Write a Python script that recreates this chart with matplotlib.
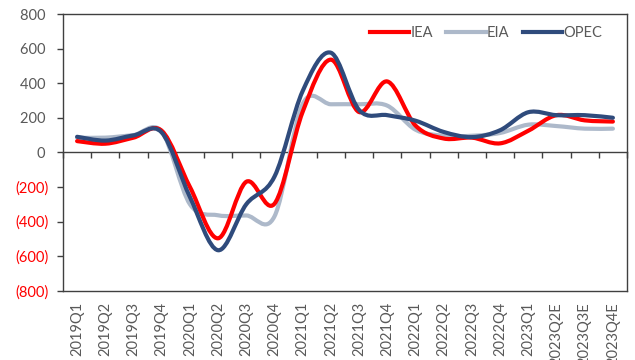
import matplotlib
matplotlib.use("Agg")
import matplotlib.pyplot as plt
from matplotlib.path import Path
from matplotlib.patches import PathPatch
from matplotlib.lines import Line2D
import numpy as np

categories = ["2019Q1", "2019Q2", "2019Q3", "2019Q4", "2020Q1", "2020Q2", "2020Q3", "2020Q4",
              "2021Q1", "2021Q2", "2021Q3", "2021Q4", "2022Q1", "2022Q2", "2022Q3", "2022Q4",
              "2023Q1", "2023Q2E", "2023Q3E", "2023Q4E"]
iea = [65, 50, 85, 125, -200, -497, -170, -297, 235, 536, 233, 410, 155, 80, 85, 52, 125, 215, 185, 178]
eia = [85, 85, 100, 120, -300, -364, -365, -370, 280, 278, 278, 270, 131, 96, 96, 112, 160, 152, 137, 137]
opec = [90, 68, 98, 115, -258, -566, -300, -140, 355, 576, 245, 215, 183, 118, 88, 128, 232, 215, 215, 200]
series_names = ["IEA", "EIA", "OPEC"]
yticks = [-800, -600, -400, -200, 0, 200, 400, 600, 800]

colors = ["#FF0000", "#ADB9CA", "#2F4B7C"]
plt.rcParams['font.family'] = ['Lato', 'DejaVu Sans']

fig = plt.figure(figsize=(6.35, 3.6), dpi=100)
ax = fig.add_axes([63/635, 1-290.7/360, 564/635, (290.7-14)/360])


def smooth_path(xs, ys):
    pts = np.column_stack([xs, ys]).astype(float)
    n = len(pts)
    verts = [pts[0]]
    codes = [Path.MOVETO]
    for i in range(n - 1):
        p0 = pts[i - 1] if i > 0 else pts[i]
        p1 = pts[i]
        p2 = pts[i + 1]
        p3 = pts[i + 2] if i + 2 < n else pts[i + 1]
        c1 = p1 + (p2 - p0) / 6.0
        c2 = p2 - (p3 - p1) / 6.0
        verts += [c1, c2, p2]
        codes += [Path.CURVE4] * 3
    return Path(verts, codes)


x = np.arange(len(categories))
handles = []
for vals, name, col, z in zip([iea, eia, opec], series_names, colors, [3, 2, 4]):
    patch = PathPatch(smooth_path(x, vals), facecolor='none', edgecolor=col,
                      lw=3.0, capstyle='round', joinstyle='round', zorder=z)
    ax.add_patch(patch)
    handles.append(Line2D([], [], color=col, lw=3.0))

ax.set_xlim(-0.5, len(categories) - 0.5)
ax.set_ylim(-800, 800)

ax.set_yticks(yticks)
labels = []
for v in yticks:
    if v < 0:
        labels.append("({:,})".format(-v))
    else:
        labels.append("{:,} ".format(v))
ax.set_yticklabels(labels)
for lbl, v in zip(ax.get_yticklabels(), yticks):
    lbl.set_color("#FF0000" if v < 0 else "#595959")
ax.tick_params(axis='y', length=4, width=1, color='#404040', pad=6, labelsize=10.5)

ax.set_xticks(x)
ax.set_xticklabels(categories, rotation=90, color='#595959', fontsize=10.5)
ax.tick_params(axis='x', length=0, pad=8)

for s in ax.spines.values():
    s.set_color('#404040')
    s.set_linewidth(1.0)

sec = ax.secondary_xaxis(0, transform=ax.transData)
sec.set_xticks(np.arange(len(categories) + 1) - 0.5)
sec.set_xticklabels([])
sec.tick_params(axis='x', direction='out', length=4, width=1, color='#404040')
sec.spines['bottom'].set_color('#404040')
sec.spines['bottom'].set_linewidth(1.0)

leg = ax.legend(handles, series_names, loc='center', bbox_to_anchor=(0.75, 0.93), ncol=3,
                frameon=False, handlelength=2.7, handletextpad=0.1, columnspacing=0.9,
                fontsize=10.5)
for t in leg.get_texts():
    t.set_color('#595959')

fig.savefig("out.png", dpi=100)
